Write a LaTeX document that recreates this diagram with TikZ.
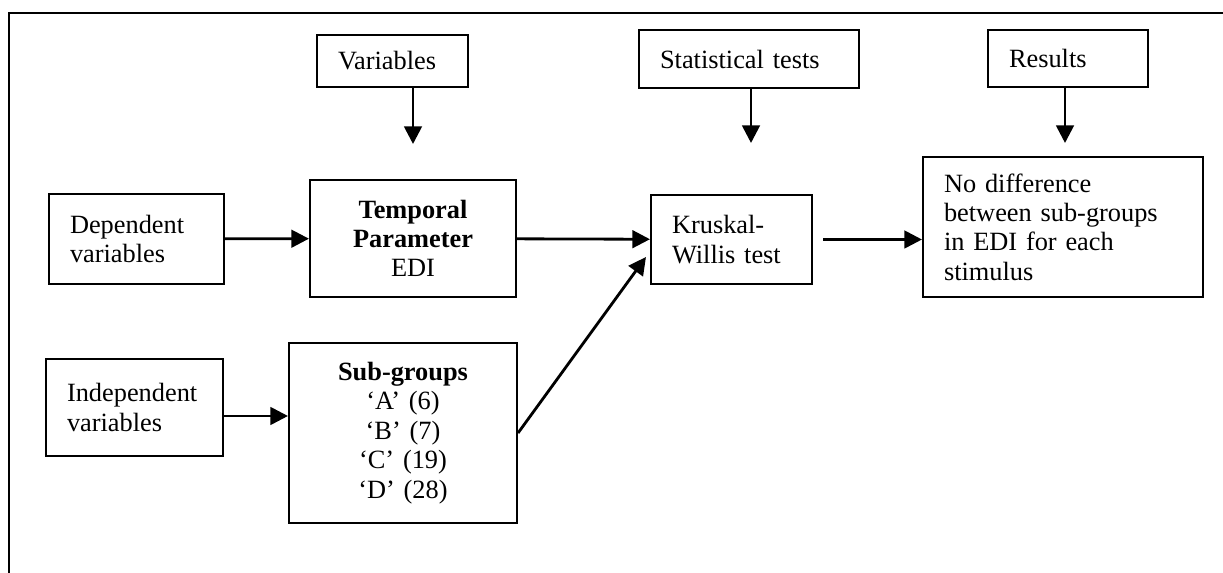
\documentclass[tikz,border=0pt]{standalone}
\usepackage{fontspec}
\setmainfont{Liberation Serif}
\usetikzlibrary{arrows.meta, positioning}

\begin{document}
\begin{tikzpicture}[x=0.02cm, y=-0.02cm, every node/.style={font=\fontsize{15}{16.7}\selectfont}]
\tikzstyle{block} = [rectangle, draw=black, line width=1.2pt, inner xsep=0.42cm, inner ysep=0pt, align=left]
\tikzstyle{centred} = [block, align=center]
\tikzstyle{link} = [-{Triangle[length=10pt, width=10pt]}, line width=1.6pt]

\useasboundingbox (0,0) rectangle (1223,573);
\draw[line width=1.4pt] (9,573) -- (9,13) -- (1223,13);

% top row
\node[block, text width=2.18cm, minimum height=1.04cm] (vars) at (392.5,61) {Variables};
\node[block, text width=3.56cm, minimum height=1.16cm] (stats) at (749,59) {Statistical tests};
\node[block, text width=2.36cm, minimum height=1.14cm] (res) at (1068,58.5) {Results};

% middle row
\node[block, text width=2.66cm, minimum height=1.8cm] (dep) at (136.5,239) {Dependent\\variables};
\node[centred, text width=3.28cm, minimum height=2.34cm] (temp) at (413,238.5) {\textbf{Temporal}\\\textbf{Parameter}\\EDI};
\node[block, text width=2.38cm, minimum height=1.78cm] (krus) at (731.5,239.5) {Kruskal-\\Willis test};
\node[block, text width=4.76cm, minimum height=2.8cm] (nodiff) at (1063,227) {No difference\\between sub-groups\\in EDI for each\\stimulus};

% bottom row
\node[block, text width=2.70cm, minimum height=1.94cm] (indep) at (134.5,407.5) {Independent\\variables};
\node[centred, text width=3.72cm, minimum height=3.6cm] (sub) at (403,433) {\textbf{Sub-groups}\\‘A’ (6)\\‘B’ (7)\\‘C’ (19)\\‘D’ (28)};

% arrow tips that stop short of the boxes
\coordinate (vin) at (413,144);
\coordinate (sin) at (751,143);
\coordinate (rin) at (1065,143);

\draw[link] (vars.south -| vin) -- (vin);
\draw[link] (stats.south -| sin) -- (sin);
\draw[link] (res.south -| rin) -- (rin);

\draw[link] (dep) -- (temp);
\draw[link] (temp) -- (krus);
\draw[link] ([xshift=0.2cm]krus.east) -- (krus.east -| nodiff.west);
\draw[link] ([yshift=-0.17cm]indep.east) -- ([yshift=-0.17cm]indep.east -| sub.west);
\draw[link] (sub.east) -- ([shift={(-0.08cm,-0.35cm)}]krus.west);

\end{tikzpicture}
\end{document}
